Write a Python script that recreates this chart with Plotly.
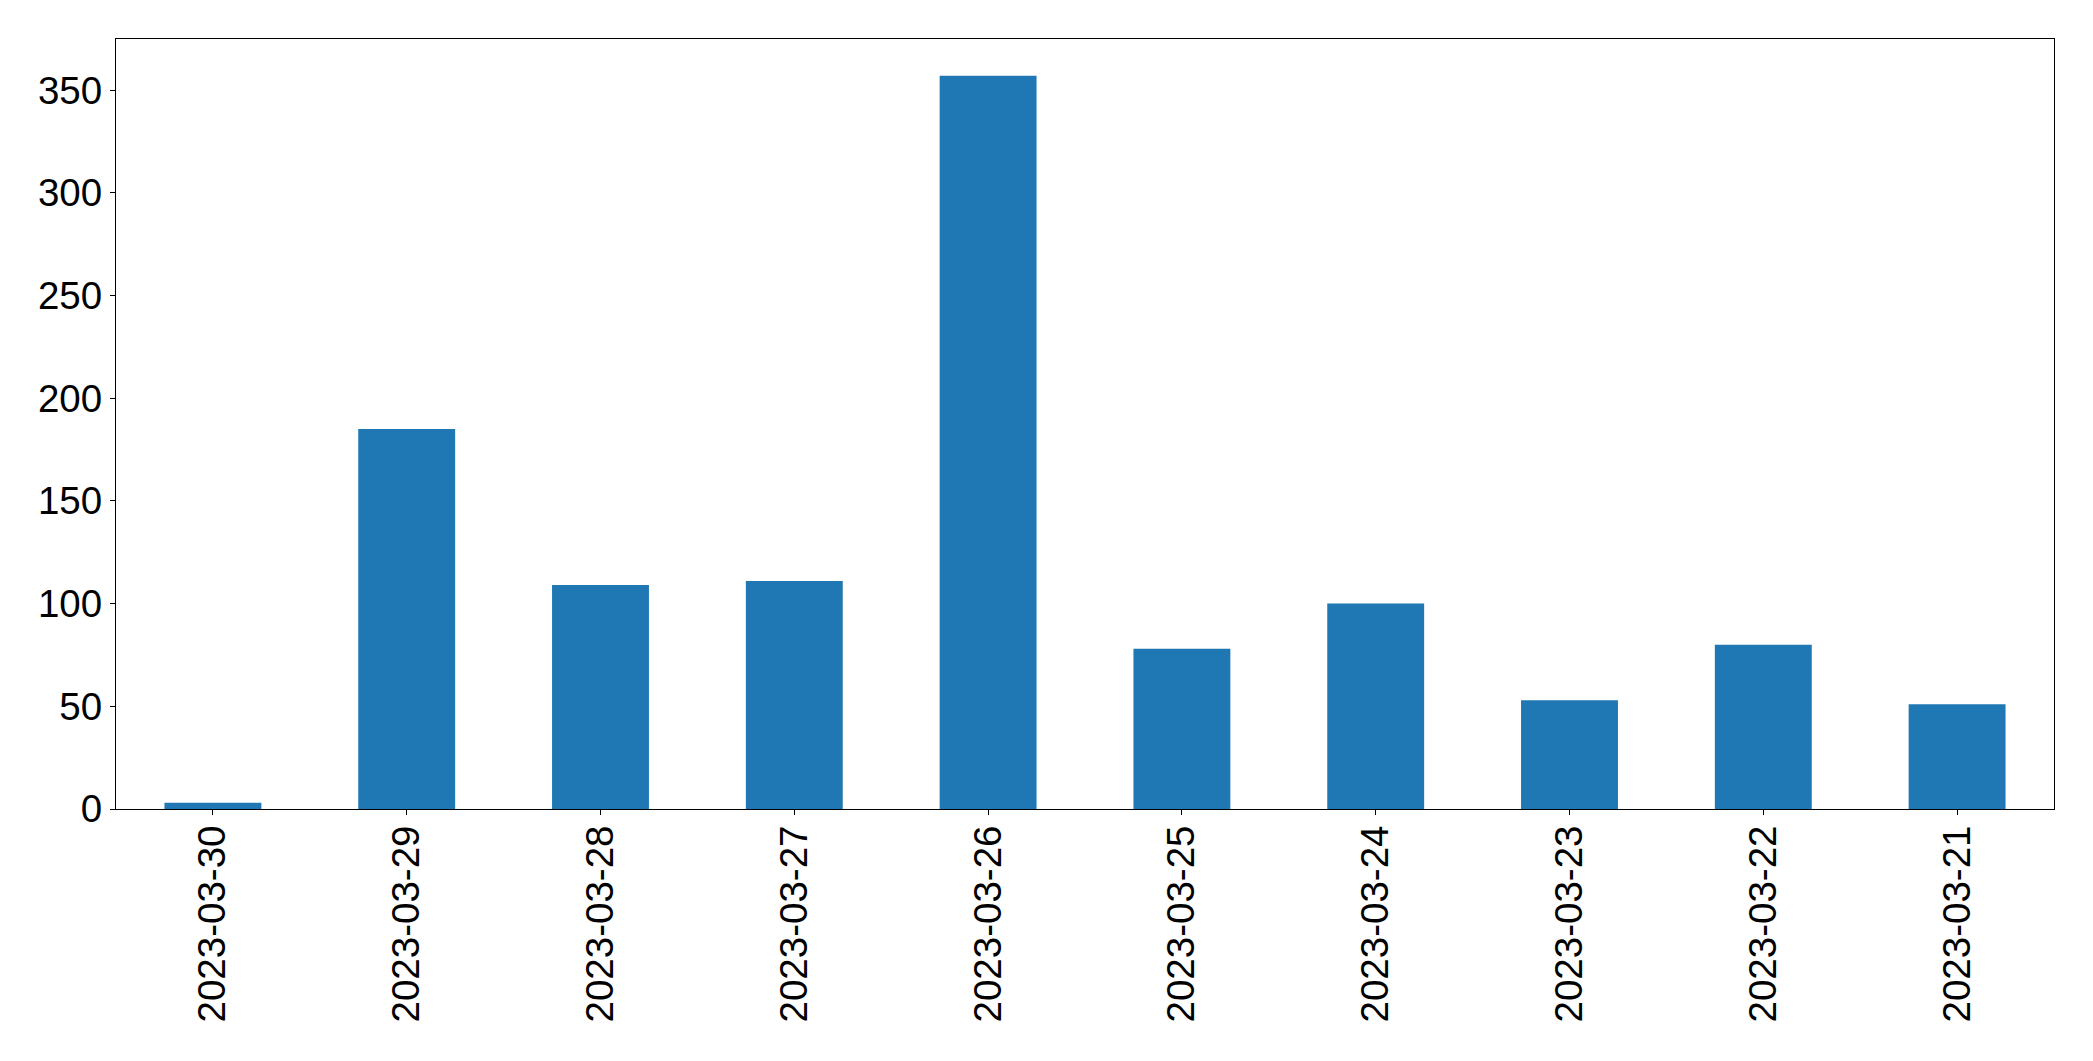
import plotly.graph_objects as go

dates = ["2023-03-30", "2023-03-29", "2023-03-28", "2023-03-27", "2023-03-26",
         "2023-03-25", "2023-03-24", "2023-03-23", "2023-03-22", "2023-03-21"]
counts = [3, 185, 109, 111, 357, 78, 100, 53, 80, 51]
y_ticks = [0, 50, 100, 150, 200, 250, 300, 350]

fig = go.Figure(go.Bar(x=list(range(len(dates))), y=counts, width=0.5,
                       marker=dict(color="#1f77b4", line=dict(width=0))))

font_family = "Liberation Sans"
fig.update_layout(
    width=2085, height=1053,
    margin=dict(l=108, r=39, t=31, b=252),
    plot_bgcolor="white", paper_bgcolor="white",
    showlegend=False,
    font=dict(family=font_family, size=38.5, color="black"),
)
fig.update_xaxes(
    range=[-0.5, len(dates) - 0.5],
    tickmode="array", tickvals=list(range(len(dates))), ticktext=dates,
    tickangle=-90, ticks="outside", ticklen=5, tickwidth=1.3, tickcolor="black",
    showline=True, linecolor="black", linewidth=1.3, mirror=True,
    showgrid=False, zeroline=False, ticklabelstandoff=-5,
)
fig.update_yaxes(
    range=[0, max(counts) * 1.05],
    tickmode="array", tickvals=y_ticks,
    ticks="outside", ticklen=5, tickwidth=1.3, tickcolor="black",
    showline=True, linecolor="black", linewidth=1.3, mirror=True,
    showgrid=False, zeroline=False, ticklabelstandoff=0,
)
fig.write_html("out.html")
